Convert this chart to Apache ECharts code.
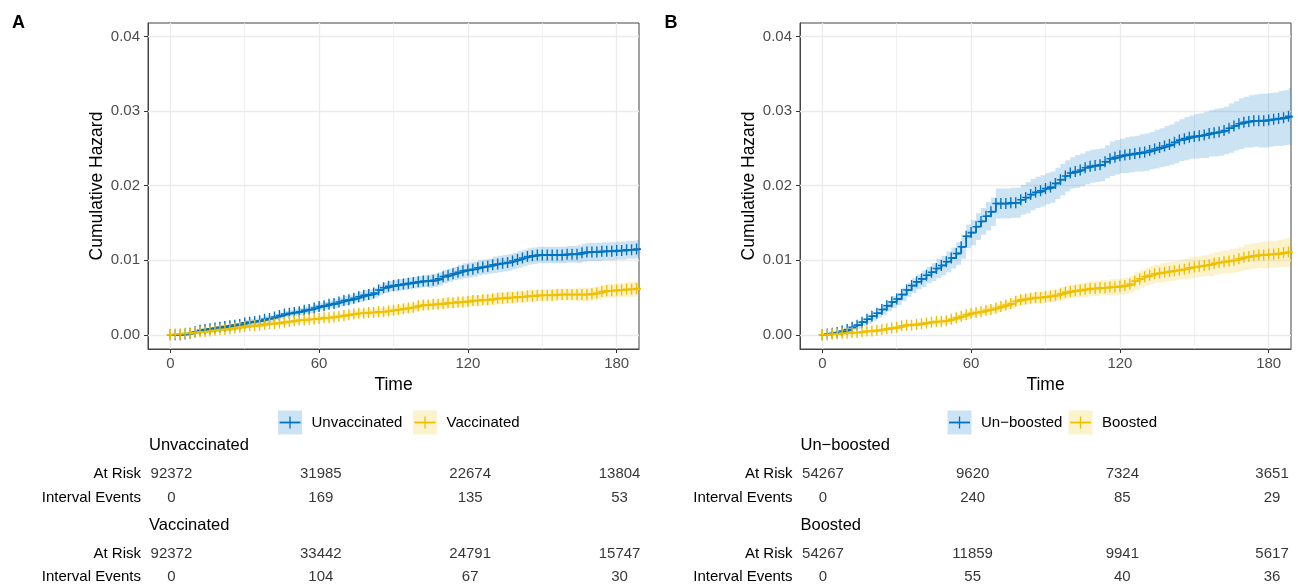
<!DOCTYPE html>
<html>
<head>
<meta charset="utf-8">
<script src="https://cdn.jsdelivr.net/npm/echarts@6/dist/echarts.min.js"></script>
<style>
html, body { margin: 0; padding: 0; background: #fff; }
#chart { width: 1298px; height: 584px; }
</style>
</head>
<body>
<div id="chart"></div>
<script>
// time points (days) the curves are read at
var days = [0,2,4,6,8,10,12,14,16,18,20,22,24,26,28,30,32,34,36,38,40,42,44,46,48,50,52,54,56,58,60,62,64,66,68,70,72,74,76,78,80,82,84,86,88,90,92,94,96,98,100,102,104,106,108,110,112,114,116,118,120,122,124,126,128,130,132,134,136,138,140,142,144,146,148,150,152,154,156,158,160,162,164,166,168,170,172,174,176,178,180,182,184,186,188,190];

// panel A: cumulative hazard and half width of the confidence band
var unvaxHaz = [
  0,0,0,0.0001,0.0002,0.0004,0.0006,0.0007,0.0008,0.0009,
  0.0010,0.0011,0.0012,0.0013,0.0014,0.0016,0.0017,0.0018,0.0019,0.0021,
  0.0022,0.0024,0.0026,0.0028,0.0029,0.0030,0.0031,0.0033,0.0034,0.0036,
  0.0038,0.0039,0.0041,0.0042,0.0044,0.0046,0.0047,0.0049,0.0051,0.0053,
  0.0054,0.0056,0.0060,0.0063,0.0065,0.0066,0.0067,0.0068,0.0069,0.0070,
  0.0071,0.0072,0.0072,0.0073,0.0075,0.0078,0.0080,0.0082,0.0084,0.0086,
  0.0087,0.0088,0.0090,0.0091,0.0092,0.0094,0.0095,0.0096,0.0097,0.0099,
  0.0101,0.0103,0.0105,0.0106,0.0107,0.0107,0.0107,0.0107,0.0107,0.0107,
  0.0108,0.0108,0.0108,0.0110,0.0111,0.0111,0.0111,0.0112,0.0112,0.0112,
  0.0113,0.0113,0.0114,0.0114,0.0115,0.0115];
var unvaxBand = [
  0,0,0,0.0001,0.0001,0.0001,0.0002,0.0002,0.0002,0.0003,
  0.0003,0.0003,0.0003,0.0003,0.0003,0.0004,0.0004,0.0004,0.0004,0.0004,
  0.0004,0.0004,0.0004,0.0004,0.0004,0.0005,0.0005,0.0005,0.0005,0.0005,
  0.0005,0.0005,0.0005,0.0006,0.0006,0.0006,0.0006,0.0006,0.0007,0.0007,
  0.0007,0.0007,0.0007,0.0007,0.0007,0.0008,0.0008,0.0008,0.0008,0.0008,
  0.0008,0.0008,0.0009,0.0009,0.0009,0.0009,0.0009,0.0009,0.0010,0.0010,
  0.0010,0.0010,0.0010,0.0010,0.0010,0.0011,0.0011,0.0011,0.0011,0.0011,
  0.0011,0.0011,0.0011,0.0011,0.0011,0.0011,0.0011,0.0011,0.0011,0.0011,
  0.0011,0.0011,0.0012,0.0012,0.0012,0.0012,0.0012,0.0012,0.0012,0.0012,
  0.0012,0.0012,0.0012,0.0012,0.0012,0.0012];
var vaxHaz = [
  0,0.0001,0.0001,0.0002,0.0002,0.0003,0.0004,0.0004,0.0005,0.0006,
  0.0007,0.0007,0.0008,0.0009,0.0010,0.0011,0.0012,0.0012,0.0013,0.0014,
  0.0015,0.0015,0.0016,0.0017,0.0018,0.0019,0.0020,0.0020,0.0021,0.0021,
  0.0022,0.0023,0.0023,0.0024,0.0025,0.0026,0.0027,0.0028,0.0029,0.0029,
  0.0030,0.0030,0.0031,0.0031,0.0032,0.0033,0.0034,0.0035,0.0036,0.0037,
  0.0039,0.0040,0.0040,0.0041,0.0041,0.0042,0.0043,0.0043,0.0044,0.0044,
  0.0045,0.0046,0.0046,0.0047,0.0047,0.0048,0.0049,0.0049,0.0050,0.0050,
  0.0051,0.0051,0.0052,0.0052,0.0053,0.0053,0.0053,0.0053,0.0054,0.0054,
  0.0054,0.0054,0.0054,0.0054,0.0054,0.0055,0.0056,0.0058,0.0059,0.0059,
  0.0060,0.0060,0.0061,0.0061,0.0062,0.0062];
var vaxBand = [
  0,0,0,0.0001,0.0001,0.0001,0.0001,0.0001,0.0002,0.0002,
  0.0002,0.0002,0.0002,0.0002,0.0002,0.0003,0.0003,0.0003,0.0003,0.0003,
  0.0003,0.0003,0.0003,0.0003,0.0003,0.0004,0.0004,0.0004,0.0004,0.0004,
  0.0004,0.0004,0.0004,0.0004,0.0004,0.0005,0.0005,0.0005,0.0005,0.0005,
  0.0005,0.0005,0.0005,0.0005,0.0005,0.0006,0.0006,0.0006,0.0006,0.0006,
  0.0006,0.0006,0.0006,0.0006,0.0006,0.0007,0.0007,0.0007,0.0007,0.0007,
  0.0007,0.0007,0.0007,0.0007,0.0007,0.0008,0.0008,0.0008,0.0008,0.0008,
  0.0008,0.0008,0.0008,0.0008,0.0008,0.0008,0.0008,0.0008,0.0008,0.0008,
  0.0008,0.0008,0.0009,0.0009,0.0009,0.0009,0.0009,0.0009,0.0009,0.0009,
  0.0009,0.0009,0.0010,0.0010,0.0010,0.0010];

// panel B
var unboostHaz = [
  0,0.0001,0.0002,0.0003,0.0005,0.0007,0.0010,0.0013,0.0017,0.0021,
  0.0025,0.0029,0.0034,0.0039,0.0044,0.0048,0.0054,0.0060,0.0066,0.0071,
  0.0075,0.0080,0.0084,0.0089,0.0093,0.0098,0.0103,0.0109,0.0118,0.0132,
  0.0137,0.0145,0.0152,0.0159,0.0165,0.0176,0.0176,0.0176,0.0177,0.0177,
  0.0181,0.0184,0.0188,0.0191,0.0193,0.0196,0.0198,0.0203,0.0208,0.0213,
  0.0217,0.0219,0.0221,0.0224,0.0226,0.0227,0.0228,0.0232,0.0236,0.0238,
  0.0240,0.0241,0.0242,0.0243,0.0244,0.0245,0.0247,0.0249,0.0251,0.0253,
  0.0255,0.0258,0.0261,0.0263,0.0265,0.0266,0.0267,0.0268,0.0270,0.0271,
  0.0272,0.0274,0.0277,0.0280,0.0283,0.0285,0.0286,0.0287,0.0287,0.0287,
  0.0288,0.0289,0.0290,0.0291,0.0293,0.0294];
var unboostBand = [
  0.0001,0.0001,0.0002,0.0003,0.0003,0.0004,0.0004,0.0005,0.0005,0.0006,
  0.0006,0.0006,0.0007,0.0007,0.0008,0.0008,0.0009,0.0009,0.0010,0.0010,
  0.0011,0.0011,0.0012,0.0013,0.0013,0.0014,0.0014,0.0015,0.0016,0.0016,
  0.0017,0.0018,0.0018,0.0019,0.0019,0.0020,0.0020,0.0020,0.0020,0.0020,
  0.0020,0.0021,0.0021,0.0021,0.0021,0.0021,0.0021,0.0021,0.0021,0.0021,
  0.0021,0.0022,0.0022,0.0022,0.0022,0.0022,0.0022,0.0022,0.0023,0.0023,
  0.0023,0.0024,0.0024,0.0024,0.0025,0.0025,0.0025,0.0026,0.0026,0.0027,
  0.0027,0.0028,0.0028,0.0029,0.0029,0.0030,0.0030,0.0031,0.0031,0.0032,
  0.0032,0.0032,0.0033,0.0033,0.0034,0.0034,0.0035,0.0035,0.0036,0.0036,
  0.0036,0.0036,0.0037,0.0037,0.0038,0.0038];
var boostHaz = [
  0,0,0.0001,0.0001,0.0002,0.0002,0.0003,0.0003,0.0004,0.0005,
  0.0005,0.0006,0.0007,0.0008,0.0009,0.0010,0.0012,0.0013,0.0013,0.0014,
  0.0015,0.0016,0.0017,0.0018,0.0018,0.0019,0.0021,0.0023,0.0025,0.0027,
  0.0029,0.0030,0.0031,0.0033,0.0034,0.0036,0.0038,0.0040,0.0042,0.0045,
  0.0047,0.0048,0.0049,0.0050,0.0050,0.0051,0.0052,0.0053,0.0055,0.0057,
  0.0058,0.0059,0.0060,0.0061,0.0062,0.0062,0.0063,0.0063,0.0064,0.0064,
  0.0065,0.0066,0.0068,0.0072,0.0075,0.0078,0.0080,0.0082,0.0083,0.0084,
  0.0085,0.0086,0.0087,0.0088,0.0090,0.0091,0.0092,0.0093,0.0094,0.0096,
  0.0097,0.0098,0.0099,0.0100,0.0102,0.0104,0.0105,0.0106,0.0107,0.0107,
  0.0108,0.0108,0.0109,0.0110,0.0111,0.0112];
var boostBand = [
  0,0,0.0001,0.0001,0.0001,0.0001,0.0001,0.0001,0.0002,0.0002,
  0.0002,0.0002,0.0002,0.0002,0.0002,0.0003,0.0003,0.0003,0.0003,0.0003,
  0.0003,0.0003,0.0003,0.0004,0.0004,0.0004,0.0004,0.0004,0.0005,0.0005,
  0.0005,0.0005,0.0005,0.0006,0.0006,0.0006,0.0006,0.0006,0.0007,0.0007,
  0.0007,0.0007,0.0007,0.0008,0.0008,0.0008,0.0008,0.0008,0.0009,0.0009,
  0.0009,0.0009,0.0009,0.0010,0.0010,0.0010,0.0010,0.0010,0.0011,0.0011,
  0.0011,0.0011,0.0011,0.0012,0.0012,0.0012,0.0012,0.0012,0.0013,0.0013,
  0.0013,0.0013,0.0013,0.0014,0.0014,0.0014,0.0014,0.0014,0.0015,0.0015,
  0.0015,0.0015,0.0016,0.0016,0.0016,0.0017,0.0017,0.0017,0.0017,0.0018,
  0.0018,0.0018,0.0018,0.0019,0.0019,0.0019];

// risk tables
var tableTimes = [0, 60, 120, 180];
var unvaxAtRisk = [92372, 31985, 22674, 13804];
var unvaxEvents = [0, 169, 135, 53];
var vaxAtRisk = [92372, 33442, 24791, 15747];
var vaxEvents = [0, 104, 67, 30];
var unboostAtRisk = [54267, 9620, 7324, 3651];
var unboostEvents = [0, 240, 85, 29];
var boostAtRisk = [54267, 11859, 9941, 5617];
var boostEvents = [0, 55, 40, 36];

var groupsA = ['Unvaccinated', 'Vaccinated'];
var groupsB = ['Un\u2212boosted', 'Boosted'];
var rowNames = ['Interval Events', 'At Risk'];

// axis breaks
var xTicks = [0, 60, 120, 180];
var xMinor = [30, 90, 150];
var yTicks = [0, 0.01, 0.02, 0.03, 0.04];
var yMinor = [0.005, 0.015, 0.025, 0.035];

var FONT = '"Liberation Sans", Arial, Helvetica, sans-serif';
var lineColors = ['#0073C2', '#EFC000'];
var bandColors = ['rgba(0,115,194,0.2)', 'rgba(239,192,0,0.2)'];
var plusIcon = 'path://M4,0H6V4.3H10V5.7H6V10H4V5.7H0V4.3H4Z';

var panels = [
  { letter: 'A', left: 148, tabLeft: 149, tabWidth: 493, legendX: [278, 413], textX: [311.5, 446.5],
    names: groupsA, haz: [unvaxHaz, vaxHaz], band: [unvaxBand, vaxBand],
    atRisk: [unvaxAtRisk, vaxAtRisk], events: [unvaxEvents, vaxEvents] },
  { letter: 'B', left: 800, tabLeft: 800.5, tabWidth: 494, legendX: [947.5, 1068.5], textX: [981, 1102],
    names: groupsB, haz: [unboostHaz, boostHaz], band: [unboostBand, boostBand],
    atRisk: [unboostAtRisk, boostAtRisk], events: [unboostEvents, boostEvents] }
];

var grids = [], xAxes = [], yAxes = [], series = [], graphics = [];

function gridLines() {
  var d = [];
  xTicks.forEach(function (v) { d.push({ xAxis: v, lineStyle: { width: 1.3 } }); });
  xMinor.forEach(function (v) { d.push({ xAxis: v, lineStyle: { width: 0.7 } }); });
  yTicks.forEach(function (v) { d.push({ yAxis: v, lineStyle: { width: 1.3 } }); });
  yMinor.forEach(function (v) { d.push({ yAxis: v, lineStyle: { width: 0.7 } }); });
  return {
    silent: true, z: 1, animation: false,
    symbol: ['none', 'none'],
    label: { show: false },
    lineStyle: { color: '#EBEBEB', type: 'solid' },
    data: d
  };
}

// step-shaped ribbon between haz - band and haz + band, drawn as one polygon
function bandRenderer(haz, band, color) {
  return function (params, api) {
    if (params.dataIndex !== 0) return null;
    var n = days.length, top = [], bottom = [];
    for (var i = 0; i < n; i++) {
      var t0 = days[i], t1 = i < n - 1 ? days[i + 1] : days[i];
      top.push(api.coord([t0, haz[i] + band[i]]), api.coord([t1, haz[i] + band[i]]));
      bottom.push(api.coord([t0, haz[i] - band[i]]), api.coord([t1, haz[i] - band[i]]));
    }
    var cs = params.coordSys;
    return {
      type: 'polygon',
      shape: { points: top.concat(bottom.reverse()) },
      style: { fill: color },
      clipPath: { type: 'rect', shape: { x: cs.x, y: cs.y, width: cs.width, height: cs.height } }
    };
  };
}

panels.forEach(function (p, pi) {
  var gPlot = pi * 3;

  grids.push({ left: p.left, top: 23, width: 491, height: 326, show: true,
    backgroundColor: '#fff', borderColor: '#444', borderWidth: 1 });
  xAxes.push({
    gridIndex: gPlot, type: 'value', min: -9, max: 189,
    axisLine: { show: true, onZero: false, lineStyle: { color: '#444' } },
    axisTick: { show: true, customValues: xTicks, length: 4, lineStyle: { color: '#333' } },
    axisLabel: { customValues: xTicks, fontSize: 15, color: '#4D4D4D', margin: 7, fontFamily: FONT },
    splitLine: { show: false },
    name: 'Time', nameLocation: 'middle', nameGap: 32,
    nameTextStyle: { fontSize: 17.5, color: '#000', verticalAlign: 'middle', fontFamily: FONT }
  });
  yAxes.push({
    gridIndex: gPlot, type: 'value', min: -0.0019, max: 0.0418,
    axisLine: { show: true, onZero: false, lineStyle: { color: '#444' } },
    axisTick: { show: true, customValues: yTicks, length: 4, lineStyle: { color: '#333' } },
    axisLabel: { customValues: yTicks, fontSize: 15, color: '#4D4D4D', margin: 8, fontFamily: FONT,
      formatter: function (v) { return v.toFixed(2); } },
    splitLine: { show: false },
    name: 'Cumulative Hazard', nameLocation: 'middle', nameGap: 42,
    nameTextStyle: { fontSize: 17.5, color: '#000', fontFamily: FONT }
  });

  // confidence ribbons
  [0, 1].forEach(function (g) {
    var haz = p.haz[g], band = p.band[g];
    var s = {
      type: 'custom', xAxisIndex: gPlot, yAxisIndex: gPlot, silent: true, z: 2,
      renderItem: bandRenderer(haz, band, bandColors[g]),
      encode: { x: 0, y: [1, 2] },
      data: days.map(function (t, i) { return [t, haz[i] - band[i], haz[i] + band[i]]; })
    };
    if (g === 0) s.markLine = gridLines();
    series.push(s);
  });

  // step curves with censor marks
  [0, 1].forEach(function (g) {
    var haz = p.haz[g];
    series.push({
      type: 'line', name: p.names[g], xAxisIndex: gPlot, yAxisIndex: gPlot, step: 'end',
      symbol: plusIcon, symbolSize: [7, 11], showSymbol: true, silent: true,
      lineStyle: { color: lineColors[g], width: 1.8 },
      itemStyle: { color: lineColors[g] }, z: 3,
      data: days.map(function (t, i) { return [t, haz[i]]; })
    });
  });

  // risk table blocks: one small grid per group, rows on a category axis
  [0, 1].forEach(function (g) {
    var gi = gPlot + 1 + g;
    grids.push({ left: p.tabLeft, top: g === 0 ? 474.2 : 554.2, width: p.tabWidth, height: 24 });
    xAxes.push({ gridIndex: gi, type: 'value', min: -9, max: 189, show: false });
    yAxes.push({
      gridIndex: gi, type: 'category', data: rowNames, boundaryGap: false,
      axisLine: { show: false, onZero: false }, axisTick: { show: false }, splitLine: { show: false },
      axisLabel: { fontSize: 15, color: '#000', margin: 8, fontFamily: FONT },
      name: p.names[g], nameLocation: 'end', nameGap: 29,
      nameTextStyle: { align: 'left', verticalAlign: 'middle', fontSize: 16.5, color: '#000', fontFamily: FONT }
    });
    var rows = tableTimes.map(function (t, i) { return [t, 'At Risk', p.atRisk[g][i]]; })
      .concat(tableTimes.map(function (t, i) { return [t, 'Interval Events', p.events[g][i]]; }));
    series.push({
      type: 'scatter', xAxisIndex: gi, yAxisIndex: gi, symbolSize: 1, silent: true,
      itemStyle: { color: 'rgba(0,0,0,0)' },
      label: { show: true, position: 'inside', fontSize: 15, color: '#000', fontFamily: FONT,
        formatter: function (q) { return String(q.value[2]); } },
      data: rows
    });
  });

  // legend keys
  [0, 1].forEach(function (g) {
    var x = p.legendX[g];
    graphics.push({ type: 'rect', shape: { x: x, y: 410.5, width: 24, height: 24 },
      style: { fill: bandColors[g] }, silent: true });
    graphics.push({ type: 'line', shape: { x1: x + 1.5, y1: 422.5, x2: x + 22.5, y2: 422.5 },
      style: { stroke: lineColors[g], lineWidth: 1.8 }, silent: true });
    graphics.push({ type: 'line', shape: { x1: x + 12, y1: 416.5, x2: x + 12, y2: 428.5 },
      style: { stroke: lineColors[g], lineWidth: 1.3 }, silent: true });
    graphics.push({ type: 'text', x: p.textX[g], y: 422.5, silent: true,
      style: { text: p.names[g], fontSize: 15, fontFamily: FONT, fill: '#000', verticalAlign: 'middle' } });
  });

  graphics.push({ type: 'text', x: pi === 0 ? 12 : 664.5, y: 23, silent: true,
    style: { text: p.letter, fontSize: 18, fontWeight: 'bold', fontFamily: FONT, fill: '#000', verticalAlign: 'middle' } });
});

var chart = echarts.init(document.getElementById('chart'));
chart.setOption({
  animation: false,
  backgroundColor: '#fff',
  textStyle: { fontFamily: FONT },
  grid: grids,
  xAxis: xAxes,
  yAxis: yAxes,
  series: series,
  graphic: graphics
});
</script>
</body>
</html>
